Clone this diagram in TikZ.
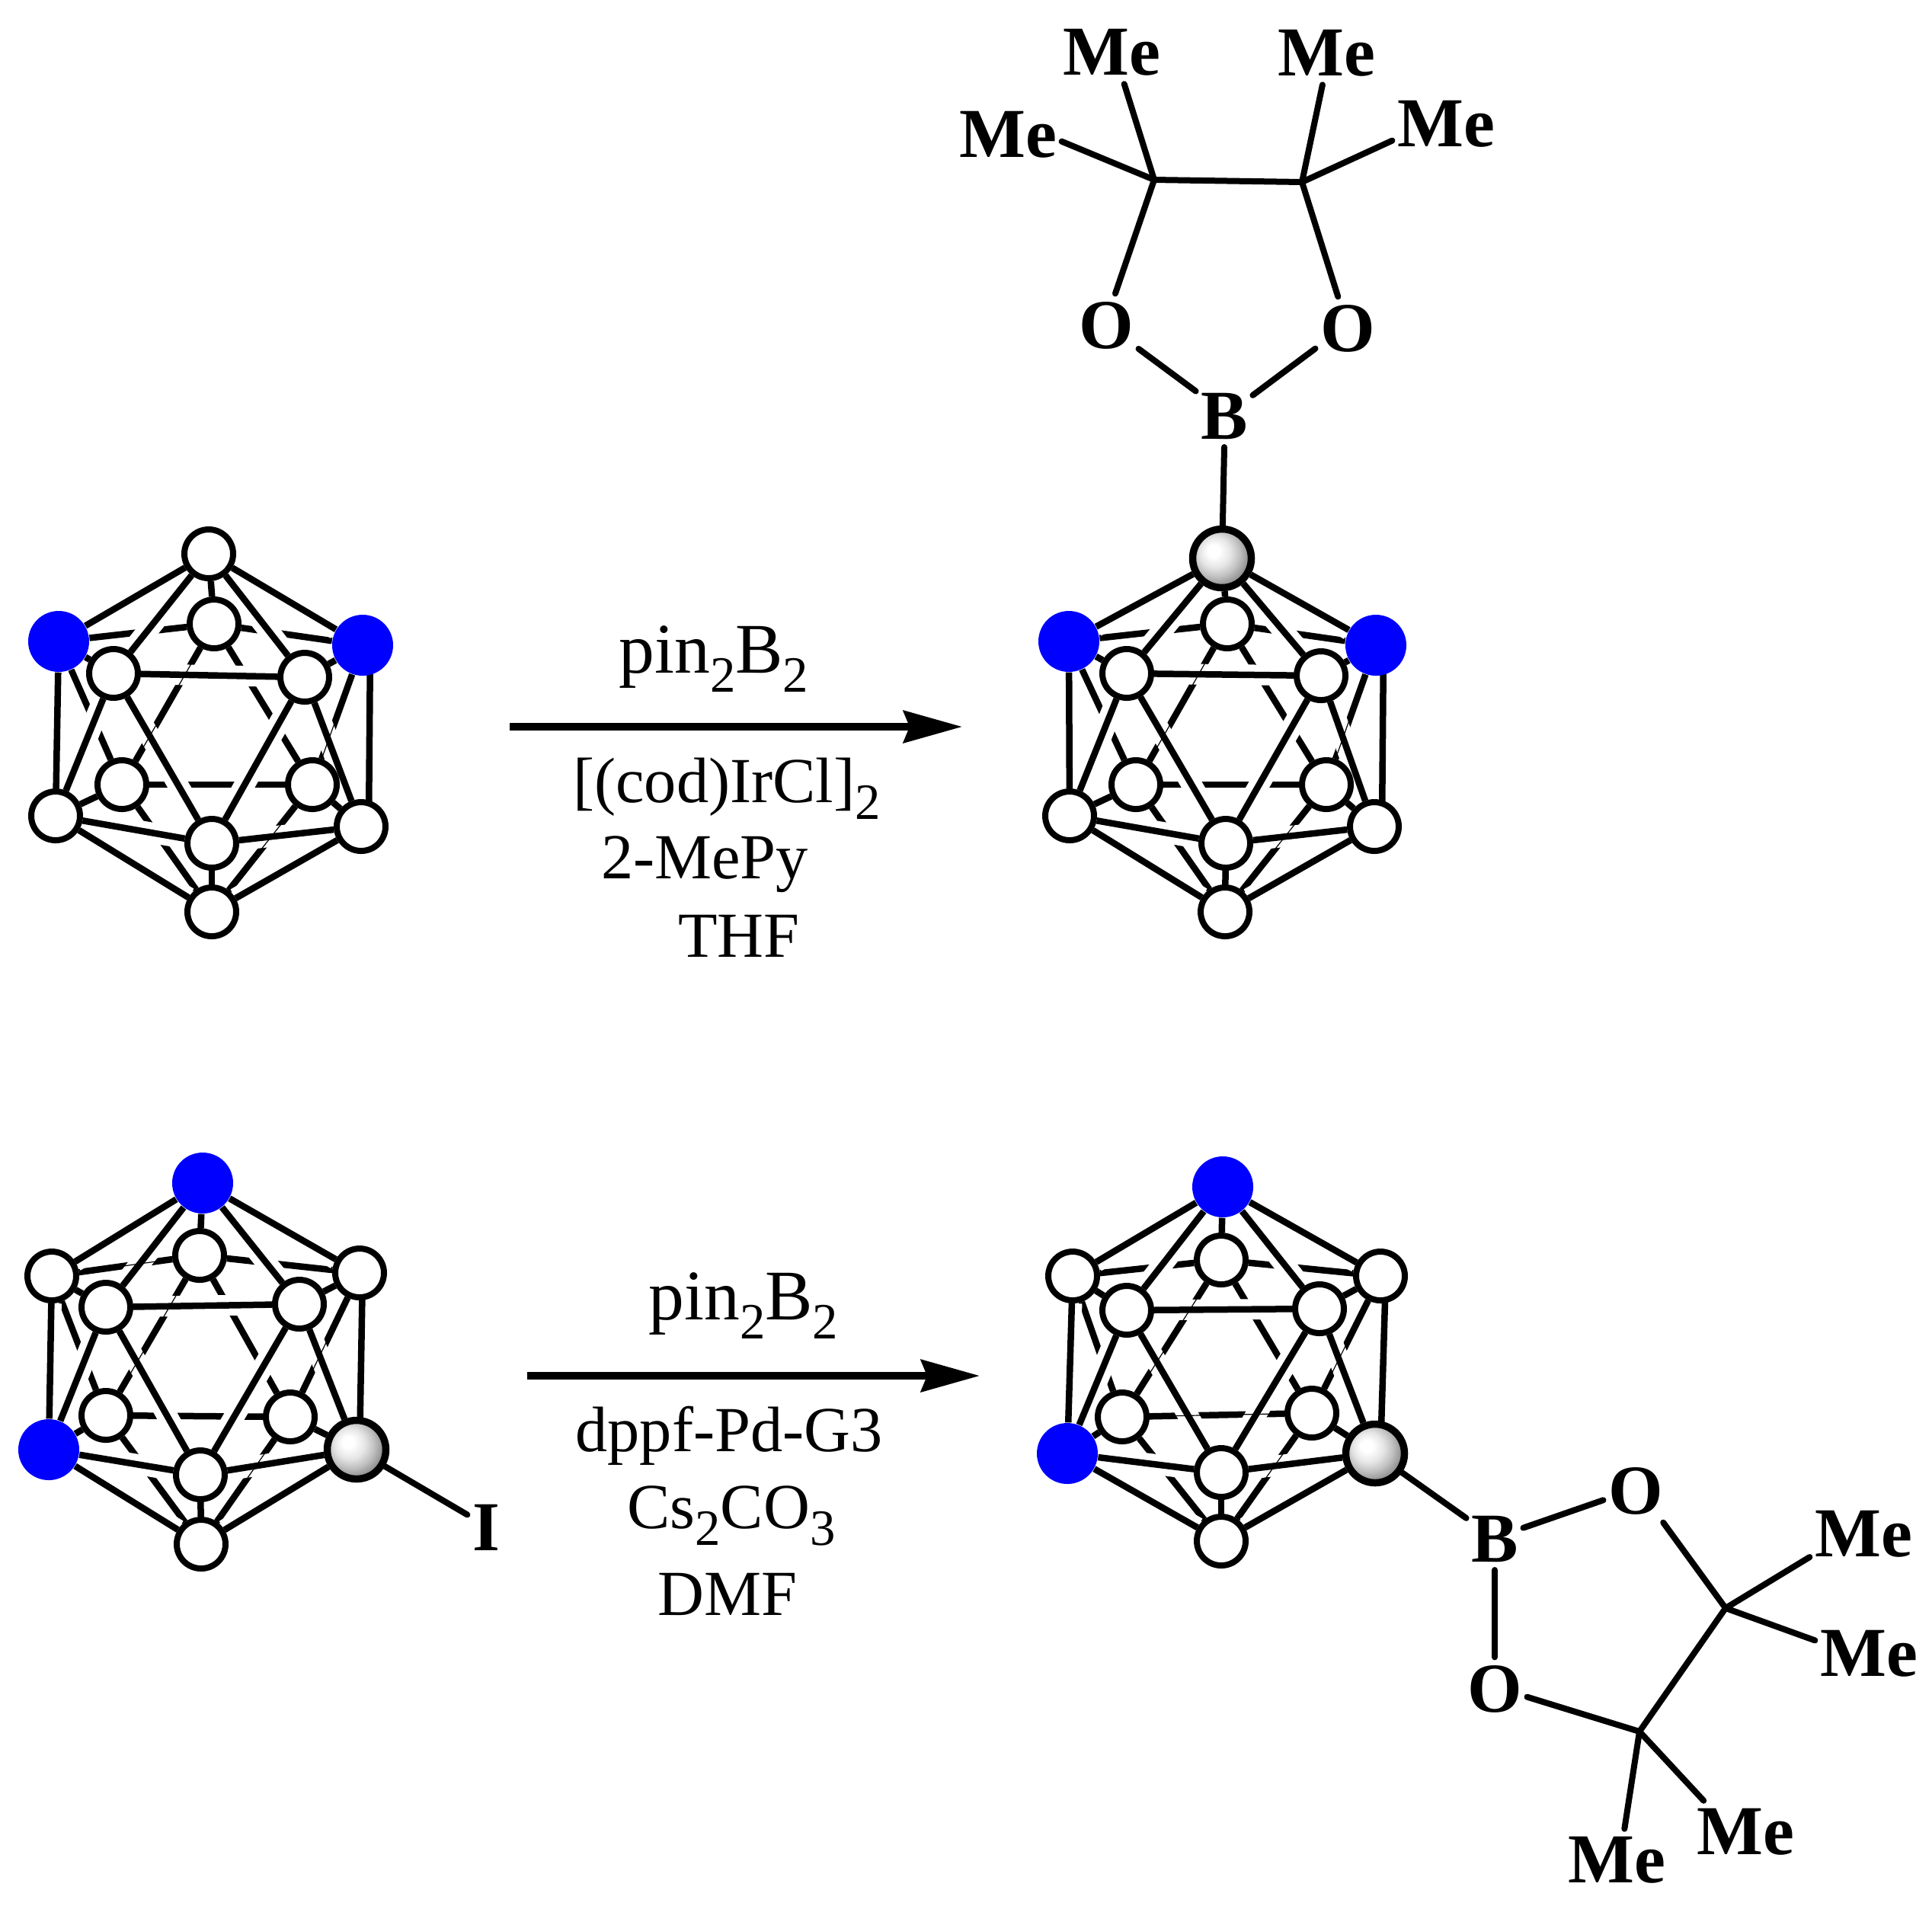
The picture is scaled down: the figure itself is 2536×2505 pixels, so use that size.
\documentclass[tikz,border=0pt]{standalone}
\usepackage{fontspec}
\setmainfont{Liberation Serif}
\usetikzlibrary{arrows.meta,backgrounds}
\pgfdeclareradialshading{greyball}{\pgfpoint{-8bp}{7bp}}{color(0bp)=(white); color(5bp)=(white); color(13bp)=(black!10); color(20bp)=(black!25); color(26bp)=(black!42); color(31bp)=(black!62); color(34bp)=(black!75); color(50bp)=(black!75)}
\tikzset{
	atom/.style={circle, draw, fill=white, line width=0.8mm, minimum size=6.4mm, inner sep=0},
	blueatom/.style={circle, fill=blue, minimum size=8mm, inner sep=0},
	greyatom/.style={circle, draw, line width=0.95mm, minimum size=7.7mm, inner sep=0, shading=greyball},
	backbond/.style={line width=0.85mm},
	halobond/.style={line width=2.7mm, color=white},
	hairbond/.style={line width=0.12mm},
	frontbond/.style={line width=0.85mm},
	bond/.style={line width=0.8mm, line cap=round},
	rxnarrow/.style={line width=0.95mm, -{Stealth[length=7.7mm, width=4.2mm, inset=0.8mm]}},
	atomlabel/.style={inner xsep=0.6mm, inner ysep=1mm, yshift=-0.2mm, font=\fontsize{26.2pt}{30pt}\selectfont\bfseries},
	reagent/.style={inner sep=0, anchor=base, font=\fontsize{24pt}{28pt}\selectfont},
	pinreagent/.style={inner sep=0, anchor=base, font=\fontsize{26.6pt}{30pt}\selectfont}
}
\newcommand{\chemsub}[1]{\raisebox{-0.27em}{\fontsize{19pt}{19pt}\selectfont #1}}
\def\cagebonds#1#2#3{
	\foreach \u/\v in {ub/ul, ub/ur, ub/ll, ub/lr, ul/ll, ur/lr, ll/lr, ll/L, lr/R, ll/b, lr/b}
		\draw[backbond] (#1\u) -- (#1\v);
	\foreach \u/\v in {t/ul, t/ur, t/fl, t/fr, ul/L, fl/fr, fl/L, fl/fb, fr/fb, fr/R, L/fb, R/fb, L/b, R/b}
		\draw[halobond] (#1\u) -- (#1\v);
	\draw[halobond] ([xshift=#2]#1ur.center) -- ([xshift=#2]#1R.center);
	\foreach \u/\v in {#3}
		\draw[hairbond] (#1\u) -- (#1\v);
	\foreach \u/\v in {t/ul, t/ur, t/ub, t/fl, t/fr, ul/fl, ur/fr, ul/L, fl/fr, fl/L, fl/fb, fr/fb, fr/R, L/fb, R/fb, L/b, R/b, fb/b}
		\draw[frontbond] (#1\u) -- (#1\v);
	\draw[frontbond] ([xshift=#2]#1ur.center) -- ([xshift=#2]#1R.center);
}

\begin{document}
\begin{tikzpicture}[x=0.1mm, y=-0.1mm]
			\useasboundingbox (0, 0) rectangle (2536, 2505);

			%%%%% CAGES %%%%%

			\foreach \n/\s/\px/\py in {t/atom/274/727, ub/atom/281/819, ul/blueatom/77/842, ur/blueatom/476/847, fl/atom/149/884, fr/atom/400/889, ll/atom/160/1030, lr/atom/410/1030, L/atom/73/1071, R/atom/474/1085, fb/atom/278/1107, b/atom/278/1197}
				\node[\s] (a\n) at (\px, \py) {};

			\foreach \n/\s/\px/\py in {t/greyatom/1604/733, ub/atom/1611/819, ul/blueatom/1403/842, ur/blueatom/1806/847, fl/atom/1479/884, fr/atom/1734/887, ll/atom/1491/1030, lr/atom/1741/1030, L/atom/1404/1071, R/atom/1804/1085, fb/atom/1609/1107, b/atom/1608/1197}
				\node[\s] (b\n) at (\px, \py) {};

			\foreach \n/\s/\px/\py in {t/blueatom/266/1553, ub/atom/262/1648, ul/atom/68/1675, ur/atom/472/1671, fl/atom/139/1716, fr/atom/393/1712, ll/atom/139/1858, lr/atom/381/1860, L/blueatom/64/1903, R/greyatom/468/1903, fb/atom/263/1936, b/atom/264/2027}
				\node[\s] (c\n) at (\px, \py) {};

			\foreach \n/\s/\px/\py in {t/blueatom/1605/1558, ub/atom/1603/1654, ul/atom/1408/1675, ur/atom/1812/1675, fl/atom/1479/1720, fr/atom/1732/1718, ll/atom/1473/1860, lr/atom/1722/1855, L/blueatom/1401/1908, R/greyatom/1805/1908, fb/atom/1603/1933, b/atom/1603/2023}
				\node[\s] (d\n) at (\px, \py) {};

			\begin{scope}[on background layer]
				\cagebonds{a}{1mm}{ub/ll, ur/lr, lr/b}
				\cagebonds{b}{1mm}{ub/ll, ur/lr, lr/b}
				\cagebonds{c}{0.4mm}{ub/ll, ub/ul, ur/lr, lr/b}
				\cagebonds{d}{0.7mm}{ub/ll, ll/lr, ur/lr, lr/b}
			\end{scope}

			%%%%% TOP BORONATE %%%%%

			\node[atomlabel] (btop) at (1607, 544) {B};
			\node[atomlabel] (otopl) at (1452, 425) {O};
			\node[atomlabel] (otopr) at (1769, 429) {O};
			\node[atomlabel] (mea) at (1459, 67) {Me};
			\node[atomlabel] (meb) at (1741, 68) {Me};
			\node[atomlabel] (mec) at (1323, 175) {Me};
			\node[atomlabel] (med) at (1898, 161) {Me};
			\coordinate (ctopl) at (1515, 236);
			\coordinate (ctopr) at (1709, 239);

			\draw[bond] (bt) -- (btop.-90);
			\draw[bond] (btop.139) -- (otopl.-36);
			\draw[bond] (btop.36) -- (otopr.212);
			\draw[bond] (otopl.74) -- (ctopl) -- (ctopr) -- (otopr.107);
			\draw[bond] (ctopl) -- (mea.-68);
			\draw[bond] (ctopl) -- (mec.-7);
			\draw[bond] (ctopr) -- (meb.263);
			\draw[bond] (ctopr) -- (med.197);

			%%%%% LOWER BORONATE %%%%%

			\node[atomlabel] (iod) at (638, 2003) {I};
			\draw[bond] (cR) -- (iod.146);

			\node[atomlabel] (blow) at (1962, 2018) {B};
			\node[atomlabel] (olowa) at (2147, 1955) {O};
			\node[atomlabel] (olowb) at (1962, 2215) {O};
			\node[atomlabel] (mee) at (2446, 2012) {Me};
			\node[atomlabel] (mef) at (2453, 2169) {Me};
			\node[atomlabel] (meg) at (2291, 2403) {Me};
			\node[atomlabel] (meh) at (2122, 2440) {Me};
			\coordinate (clowa) at (2265, 2111);
			\coordinate (clowb) at (2152, 2273);

			\draw[bond] (dR) -- (blow.144);
			\draw[bond] (blow.21) -- (olowa.196);
			\draw[bond] (blow.-90) -- (olowb.90);
			\draw[bond] (olowa.-49) -- (clowa) -- (clowb) -- (olowb.-14);
			\draw[bond] (clowa) -- (mee.203);
			\draw[bond] (clowa) -- (mef.166);
			\draw[bond] (clowb) -- (meg.143);
			\draw[bond] (clowb) -- (meh.76);

			%%%%% REACTIONS %%%%%

			\coordinate (arrowas) at (669, 954);
			\coordinate (arrowae) at (1263, 954);
			\draw[rxnarrow] (arrowas) -- (arrowae);
			\node[pinreagent] (pina) at (937, 883) {pin\chemsub{2}B\chemsub{2}};
			\node[reagent] (cod) at (954, 1053) {[(cod)IrCl]\chemsub{2}};
			\node[reagent] (mepy) at (925, 1153) {2-MePy};
			\node[reagent] (thf) at (970, 1256) {THF};

			\coordinate (arrowbs) at (692, 1806);
			\coordinate (arrowbe) at (1286, 1806);
			\draw[rxnarrow] (arrowbs) -- (arrowbe);
			\node[pinreagent] (pinb) at (976, 1732) {pin\chemsub{2}B\chemsub{2}};
			\node[reagent] (dppf) at (957, 1905) {dppf-Pd-G3};
			\node[reagent] (csco) at (960, 2006) {Cs\chemsub{2}CO\chemsub{3}};
			\node[reagent] (dmf) at (955, 2120) {DMF};
\end{tikzpicture}
\end{document}
